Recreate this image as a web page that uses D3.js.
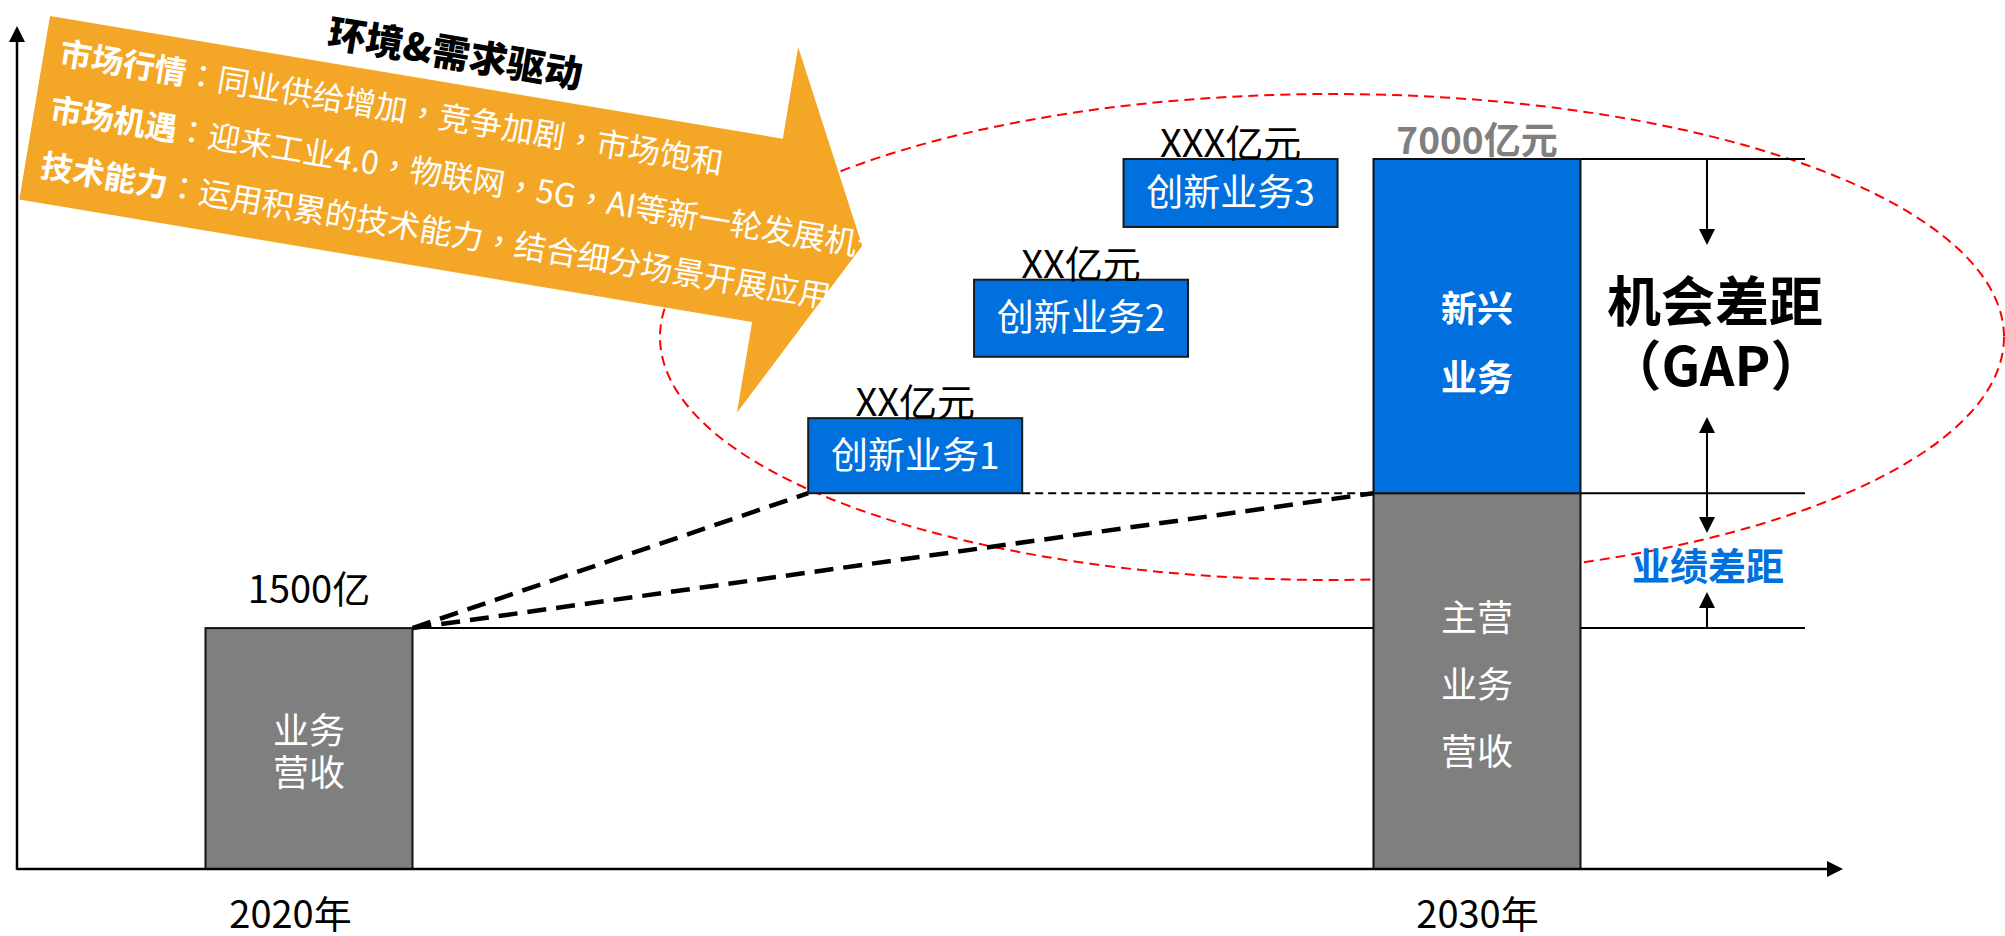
<!DOCTYPE html>
<html><head><meta charset="utf-8">
<script src="https://cdn.jsdelivr.net/npm/d3@7"></script>
<style>
html,body{margin:0;padding:0;background:#fff;}
svg{display:block;font-family:"Noto Sans CJK SC","Microsoft YaHei",sans-serif;}
</style></head><body>
<svg id="chart" width="2005" height="936"></svg>
<script>
// ---------------- data ----------------
const years = [2020, 2030];
const yearLabels = ["2020年", "2030年"];
const mainRevenue = [2375, 3705];          // schematic bar heights (7000 = top)
const emergingTop = 7000;
const valueLabels = ["1500亿", "7000亿元"];
const mainBarText = [["业务", "营收"], ["主营", "业务", "营收"]];
const emergingText = ["新兴", "业务"];
const innovNames = ["创新业务1", "创新业务2", "创新业务3"];
const innovValueLabels = ["XX亿元", "XX亿元", "XXX亿元"];
const innovYear = [2025.19, 2026.61, 2027.89];
const innovLow = [3705, 5050, 6330];
const innovHigh = [4445, 5810, 7000];
const driverTitle = "环境&需求驱动";
const driverHeads = ["市场行情", "市场机遇", "技术能力"];
const driverTexts = ["同业供给增加，竞争加剧，市场饱和",
                     "迎来工业4.0，物联网，5G，AI等新一轮发展机遇",
                     "运用积累的技术能力，结合细分场景开展应用"];
const gapTitle = ["机会差距", "（GAP）"];
const gapPerf = "业绩差距";

// ---------------- setup ----------------
const svg = d3.select("#chart");
const x = d3.scaleLinear().domain([2020, 2030]).range([309, 1477]);
const y = d3.scaleLinear().domain([0, 7000]).range([869, 159]);
const barW = 207, boxW = 214;
const BLUE = "#0070DF", GRAY = "#7F7F7F", ORANGE = "#F4A727", RED = "#FF0000";
const CJK = '"Noto Sans CJK SC","Microsoft YaHei",sans-serif';
const CJK_TC = '"Noto Sans CJK TC","Noto Sans CJK SC",sans-serif';
const defs = svg.append("defs");

// ---------------- red dashed ellipse ----------------
svg.append("ellipse")
  .attr("cx", 1332).attr("cy", 337).attr("rx", 672).attr("ry", 243)
  .attr("fill", "none").attr("stroke", RED).attr("stroke-width", 2)
  .attr("stroke-dasharray", "10,6");

// ---------------- orange driver arrow ----------------
const arrowPath = "M0,0 L743,0 L743,-93 L839,92.5 L743,278 L743,186 L0,186 Z";
defs.append("clipPath").attr("id", "arrowClip").append("path").attr("d", arrowPath);
const ag = svg.append("g").attr("transform", "translate(50,16) rotate(9.5)");
ag.append("path").attr("d", arrowPath).attr("fill", ORANGE);
ag.append("text")
  .attr("x", 406).attr("y", -16).attr("text-anchor", "middle")
  .attr("font-size", 38).attr("font-weight", 900).attr("fill", "#000")
  .text(driverTitle);
const tg = ag.append("g").attr("clip-path", "url(#arrowClip)");
driverHeads.forEach((h, i) => {
  const t = tg.append("text").attr("x", 16).attr("y", 46 + i * 57)
    .attr("font-size", 32).attr("fill", "#fff");
  t.append("tspan").attr("font-weight", "bold").text(h);
  t.append("tspan").attr("font-family", CJK_TC).text("：");
  driverTexts[i].split(/([，])/).forEach(part => {
    if (!part) return;
    const s = t.append("tspan").text(part);
    if (part === "，") s.attr("font-family", CJK_TC);
  });
});

// ---------------- reference lines ----------------
const lineEnd = 1805;
const refLines = [
  {x1: x(years[0]) + barW / 2, v: mainRevenue[0]},
  {x1: x(years[1]) + barW / 2, v: mainRevenue[1]},
  {x1: x(years[1]) + barW / 2, v: emergingTop}
];
svg.selectAll(".ref").data(refLines).join("line")
  .attr("x1", d => d.x1).attr("x2", lineEnd)
  .attr("y1", d => y(d.v)).attr("y2", d => y(d.v))
  .attr("stroke", "#000").attr("stroke-width", 2);

// ---------------- dashed connectors ----------------
const sx = x(years[0]) + barW / 2, sy = y(mainRevenue[0]);
const dashTargets = [
  [x(innovYear[0]) - boxW / 2, y(innovLow[0])],
  [x(years[1]) - barW / 2, y(mainRevenue[1])]
];
svg.selectAll(".dash").data(dashTargets).join("line")
  .attr("x1", sx).attr("y1", sy).attr("x2", d => d[0]).attr("y2", d => d[1])
  .attr("stroke", "#000").attr("stroke-width", 4.5).attr("stroke-dasharray", "19,10");
svg.append("line")
  .attr("x1", x(innovYear[0]) + boxW / 2).attr("x2", x(years[1]) - barW / 2)
  .attr("y1", y(innovLow[0])).attr("y2", y(innovLow[0]))
  .attr("stroke", "#000").attr("stroke-width", 2).attr("stroke-dasharray", "8,5");

// ---------------- bars ----------------
svg.selectAll(".main").data(years).join("rect")
  .attr("x", d => x(d) - barW / 2).attr("width", barW)
  .attr("y", (d, i) => y(mainRevenue[i]))
  .attr("height", (d, i) => y(0) - y(mainRevenue[i]))
  .attr("fill", GRAY).attr("stroke", "#111").attr("stroke-width", 2);
svg.append("rect")
  .attr("x", x(years[1]) - barW / 2).attr("width", barW)
  .attr("y", y(emergingTop)).attr("height", y(mainRevenue[1]) - y(emergingTop))
  .attr("fill", BLUE).attr("stroke", "#111").attr("stroke-width", 2);

// innovation boxes
svg.selectAll(".box").data(innovNames).join("rect")
  .attr("x", (d, i) => x(innovYear[i]) - boxW / 2).attr("width", boxW)
  .attr("y", (d, i) => y(innovHigh[i]))
  .attr("height", (d, i) => y(innovLow[i]) - y(innovHigh[i]))
  .attr("fill", BLUE).attr("stroke", "#1a1a1a").attr("stroke-width", 2);
svg.selectAll(".boxt").data(innovNames).join("text")
  .attr("x", (d, i) => x(innovYear[i]))
  .attr("y", (d, i) => (y(innovLow[i]) + y(innovHigh[i])) / 2 + 13)
  .attr("text-anchor", "middle").attr("font-size", 37).attr("fill", "#fff")
  .text(d => d);
svg.selectAll(".boxv").data(innovValueLabels).join("text")
  .attr("x", (d, i) => x(innovYear[i]))
  .attr("y", (d, i) => y(innovHigh[i]) - 2)
  .attr("text-anchor", "middle").attr("font-size", 38).attr("fill", "#000")
  .text(d => d);

// ---------------- bar texts ----------------
svg.append("text").attr("x", x(years[0])).attr("y", 603)
  .attr("text-anchor", "middle").attr("font-size", 38).attr("fill", "#000")
  .text(valueLabels[0]);
svg.append("text").attr("x", x(years[1])).attr("y", 154)
  .attr("text-anchor", "middle").attr("font-size", 37).attr("font-weight", "bold")
  .attr("fill", GRAY).text(valueLabels[1]);

mainBarText[0].forEach((s, i) => {
  svg.append("text").attr("x", x(years[0])).attr("y", 744 + i * 42)
    .attr("text-anchor", "middle").attr("font-size", 36).attr("fill", "#fff").text(s);
});
mainBarText[1].forEach((s, i) => {
  svg.append("text").attr("x", x(years[1])).attr("y", 631 + i * 67)
    .attr("text-anchor", "middle").attr("font-size", 36).attr("fill", "#fff").text(s);
});
emergingText.forEach((s, i) => {
  svg.append("text").attr("x", x(years[1])).attr("y", 322 + i * 69)
    .attr("text-anchor", "middle").attr("font-size", 36).attr("font-weight", "bold")
    .attr("fill", "#fff").text(s);
});

// ---------------- gap annotation ----------------
const ax = 1707;
function head(tipY, dir) {
  svg.append("path")
    .attr("d", `M${ax},${tipY} L${ax - 8},${tipY - dir * 16} L${ax + 8},${tipY - dir * 16} Z`)
    .attr("fill", "#000");
}
function vline(a, b) {
  svg.append("line").attr("x1", ax).attr("x2", ax).attr("y1", a).attr("y2", b)
    .attr("stroke", "#000").attr("stroke-width", 2);
}
vline(y(emergingTop), 232); head(245, 1);
vline(430, 520); head(417, -1); head(533, 1);
vline(y(mainRevenue[0]), 604); head(592, -1);

svg.append("text").attr("x", 1715).attr("y", 322).attr("text-anchor", "middle")
  .attr("font-size", 54).attr("font-weight", "bold").attr("fill", "#000").text(gapTitle[0]);
svg.append("text").attr("x", 1716).attr("y", 386).attr("text-anchor", "middle")
  .attr("font-size", 54).attr("font-weight", "bold").attr("fill", "#000")
  .attr("font-family", CJK_TC).text(gapTitle[1]);
svg.append("text").attr("x", 1708).attr("y", 580).attr("text-anchor", "middle")
  .attr("font-size", 38).attr("font-weight", "bold").attr("fill", BLUE).text(gapPerf);

// ---------------- axes ----------------
const x0 = 17, yb = y(0);
svg.append("line").attr("x1", x0).attr("x2", x0).attr("y1", yb + 1).attr("y2", 40)
  .attr("stroke", "#000").attr("stroke-width", 2.5);
svg.append("path").attr("d", `M${x0},26 L${x0 - 8},42 L${x0 + 8},42 Z`).attr("fill", "#000");
svg.append("line").attr("x1", x0).attr("x2", 1830).attr("y1", yb).attr("y2", yb)
  .attr("stroke", "#000").attr("stroke-width", 2.5);
svg.append("path").attr("d", `M1843,${yb} L1827,${yb - 8} L1827,${yb + 8} Z`).attr("fill", "#000");

const xAxis = d3.axisBottom(x).tickValues(years)
  .tickFormat((d, i) => yearLabels[i]).tickSize(0).tickPadding(32);
svg.append("g").attr("transform", `translate(0,${yb})`).call(xAxis)
  .call(g => g.select(".domain").remove())
  .selectAll("text")
  .attr("font-size", 38).attr("font-family", CJK).attr("fill", "#000")
  .attr("dx", (d, i) => i === 0 ? -19 : 0);
</script>
</body></html>
